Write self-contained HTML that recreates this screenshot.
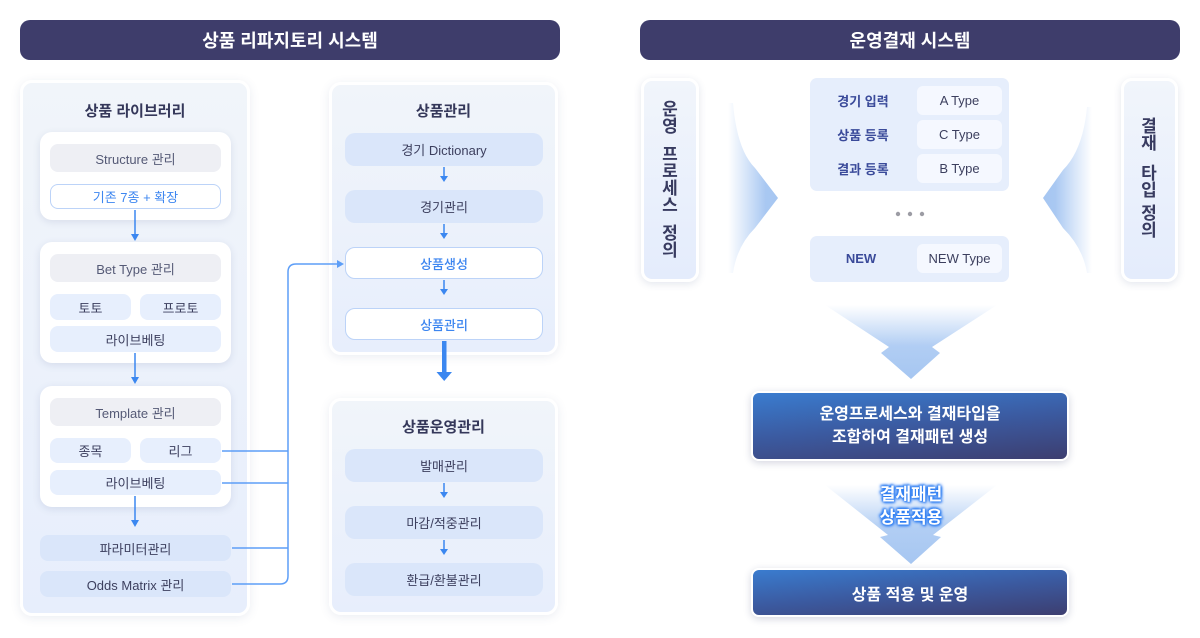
<!DOCTYPE html>
<html><head><meta charset="utf-8">
<style>
*{margin:0;padding:0;box-sizing:border-box}
body{width:1200px;height:638px;background:#fff;position:relative;overflow:hidden;font-family:"Liberation Sans","Noto Sans CJK KR",sans-serif;}
.a{position:absolute}
.b{position:absolute;display:flex;align-items:center;justify-content:center;text-align:center;white-space:nowrap}
.hdr{background:#3e3d6b;color:#fff;font-weight:700;font-size:18px;border-radius:10px;height:40px;top:20px;width:540px}
.panel{position:absolute;border:3px solid #fff;border-radius:12px;background:linear-gradient(180deg,#f1f5fa 0%,#e7eefc 100%);box-shadow:0 2px 10px rgba(60,80,130,0.10)}
.card{position:absolute;background:#fff;border-radius:12px;box-shadow:0 2px 8px rgba(60,80,130,0.13)}
.ttl{font-weight:700;font-size:15px;color:#35385a}
.g{background:#eeeff4;border-radius:8px;color:#555a76;font-size:13px}
.lb{background:#e7effd;border-radius:8px;color:#3c3f5e;font-size:13px}
.mb{background:#dae6fa;border-radius:10px;color:#3c3f5e;font-size:13px}
.wb{background:#fff;border:1.5px solid #bcd3f8;border-radius:10px;color:#3d86f0;font-size:13px}
.vbox{position:absolute;border:3px solid #fff;border-radius:11px;background:linear-gradient(180deg,#f1f5fb,#e4ecfc);box-shadow:0 2px 8px rgba(60,80,130,0.14)}
.vt{position:absolute;width:20px;font-weight:700;font-size:17px;line-height:17px;color:#383b60;text-align:center}
.tl{font-weight:700;font-size:13px;color:#3a4a9a}
.tb{background:#f5f8ff;border-radius:6px;color:#3c3f5e;font-size:13px}
.blue{background:linear-gradient(175deg,#3a7ccf 0%,#3b5aa0 50%,#3d3e70 100%);border:2px solid #fff;border-radius:8px;box-shadow:0 2px 8px rgba(40,50,100,0.2);color:#fff;font-weight:700;font-size:16px}
</style></head><body>

<!-- headers -->
<div class="b hdr" style="left:20px">상품 리파지토리 시스템</div>
<div class="b hdr" style="left:640px">운영결재 시스템</div>

<!-- left panel -->
<div class="panel" style="left:20px;top:80px;width:230px;height:536px"></div>
<div class="b ttl" style="left:20px;top:98px;width:230px;height:24px">상품 라이브러리</div>

<div class="card" style="left:40px;top:132px;width:191px;height:88px"></div>
<div class="b g" style="left:50px;top:144px;width:171px;height:28px">Structure 관리</div>
<div class="b wb" style="left:50px;top:184px;width:171px;height:25px;border-radius:8px">기존 7종 + 확장</div>

<div class="card" style="left:40px;top:242px;width:191px;height:121px"></div>
<div class="b g" style="left:50px;top:254px;width:171px;height:28px">Bet Type 관리</div>
<div class="b lb" style="left:50px;top:294px;width:81px;height:26px">토토</div>
<div class="b lb" style="left:140px;top:294px;width:81px;height:26px">프로토</div>
<div class="b lb" style="left:50px;top:326px;width:171px;height:26px">라이브베팅</div>

<div class="card" style="left:40px;top:386px;width:191px;height:121px"></div>
<div class="b g" style="left:50px;top:398px;width:171px;height:28px">Template 관리</div>
<div class="b lb" style="left:50px;top:438px;width:81px;height:25px">종목</div>
<div class="b lb" style="left:140px;top:438px;width:81px;height:25px">리그</div>
<div class="b lb" style="left:50px;top:470px;width:171px;height:25px">라이브베팅</div>

<div class="b mb" style="left:40px;top:535px;width:191px;height:26px;border-radius:8px">파라미터관리</div>
<div class="b mb" style="left:40px;top:571px;width:191px;height:26px;border-radius:8px">Odds Matrix 관리</div>

<!-- middle panels -->
<div class="panel" style="left:329px;top:82px;width:229px;height:273px"></div>
<div class="b ttl" style="left:329px;top:98px;width:229px;height:24px">상품관리</div>
<div class="b mb" style="left:345px;top:133px;width:198px;height:33px">경기 Dictionary</div>
<div class="b mb" style="left:345px;top:190px;width:198px;height:33px">경기관리</div>
<div class="b wb" style="left:345px;top:247px;width:198px;height:32px;font-weight:500">상품생성</div>
<div class="b wb" style="left:345px;top:308px;width:198px;height:32px;font-weight:500">상품관리</div>

<div class="panel" style="left:329px;top:398px;width:229px;height:217px"></div>
<div class="b ttl" style="left:329px;top:414px;width:229px;height:24px">상품운영관리</div>
<div class="b mb" style="left:345px;top:449px;width:198px;height:33px">발매관리</div>
<div class="b mb" style="left:345px;top:506px;width:198px;height:33px">마감/적중관리</div>
<div class="b mb" style="left:345px;top:563px;width:198px;height:33px">환급/환불관리</div>

<!-- connectors & fans -->
<svg class="a" style="left:0;top:0" width="1200" height="638" viewBox="0 0 1200 638">
<defs>
<linearGradient id="fl" x1="728" y1="0" x2="778" y2="0" gradientUnits="userSpaceOnUse">
<stop offset="0" stop-color="#a9c8f2" stop-opacity="0"/><stop offset="0.35" stop-color="#a9c8f2" stop-opacity="0.45"/><stop offset="0.75" stop-color="#a9c8f2" stop-opacity="1"/><stop offset="1" stop-color="#a6c6f1"/></linearGradient>
<linearGradient id="fr" x1="1092" y1="0" x2="1043" y2="0" gradientUnits="userSpaceOnUse">
<stop offset="0" stop-color="#a9c8f2" stop-opacity="0"/><stop offset="0.35" stop-color="#a9c8f2" stop-opacity="0.45"/><stop offset="0.75" stop-color="#a9c8f2" stop-opacity="1"/><stop offset="1" stop-color="#a6c6f1"/></linearGradient>
<linearGradient id="fd1" x1="0" y1="305" x2="0" y2="379" gradientUnits="userSpaceOnUse">
<stop offset="0" stop-color="#b0cdf4" stop-opacity="0"/><stop offset="0.55" stop-color="#adcbf3" stop-opacity="0.95"/><stop offset="1" stop-color="#a6c6f1"/></linearGradient>
<linearGradient id="fd2" x1="0" y1="485" x2="0" y2="564" gradientUnits="userSpaceOnUse">
<stop offset="0" stop-color="#b0cdf4" stop-opacity="0"/><stop offset="0.55" stop-color="#adcbf3" stop-opacity="0.95"/><stop offset="1" stop-color="#a6c6f1"/></linearGradient>
</defs>
<g stroke="#3b87f0" stroke-width="1.5" fill="none">
<line x1="135" y1="210" x2="135" y2="235"/>
<line x1="135" y1="353" x2="135" y2="378"/>
<line x1="135" y1="496" x2="135" y2="521"/>
<line x1="444" y1="167" x2="444" y2="177"/>
<line x1="444" y1="224" x2="444" y2="234"/>
<line x1="444" y1="280" x2="444" y2="290"/>
<line x1="444" y1="483" x2="444" y2="493"/>
<line x1="444" y1="540" x2="444" y2="550"/>
</g>
<g fill="#3b87f0">
<polygon points="131,234 139,234 135,241"/>
<polygon points="131,377 139,377 135,384"/>
<polygon points="131,520 139,520 135,527"/>
<polygon points="440,176 448,176 444,182"/>
<polygon points="440,233 448,233 444,239"/>
<polygon points="440,289 448,289 444,295"/>
<polygon points="440,492 448,492 444,498"/>
<polygon points="440,549 448,549 444,555"/>
<rect x="442" y="341" width="4.5" height="32"/>
<polygon points="436.5,372 452,372 444.2,381"/>
</g>
<g stroke="#5d9ef7" stroke-width="1.5" fill="none">
<line x1="222" y1="451" x2="288" y2="451"/>
<line x1="222" y1="483" x2="288" y2="483"/>
<line x1="232" y1="548" x2="288" y2="548"/>
<path d="M232,584 L280,584 Q288,584 288,576 L288,272 Q288,264 296,264 L338,264"/>
</g>
<polygon fill="#5d9ef7" points="337,260 344,264 337,268"/>

<path fill="url(#fl)" d="M733,103 Q737,150 755,168 L778,198 L755,228 Q737,246 733,273 L728,273 L728,103 Z"/>
<path fill="url(#fr)" d="M1087,107 Q1083,150 1063,170 L1043,198 L1063,228 Q1083,248 1087,273 L1092,273 L1092,107 Z"/>
<path fill="url(#fd1)" d="M825,305 L997,305 L932,347 L940,353 L911,379 L881,353 L889,347 Z"/>
<path fill="url(#fd2)" d="M825,485 L997,485 L933,535 L941,537 L911,564 L880,537 L888,535 Z"/>
<circle cx="898" cy="214" r="2.2" fill="#9c9ca4"/>
<circle cx="910" cy="214" r="2.2" fill="#9c9ca4"/>
<circle cx="922" cy="214" r="2.2" fill="#9c9ca4"/>
</svg>

<!-- right side vertical boxes -->
<div class="vbox" style="left:641px;top:78px;width:58px;height:204px"></div>
<div class="vt" style="left:660px;top:101px">운<br>영</div>
<div class="vt" style="left:660px;top:146px">프<br>로<br>세<br>스</div>
<div class="vt" style="left:660px;top:225px">정<br>의</div>

<div class="vbox" style="left:1121px;top:78px;width:57px;height:204px"></div>
<div class="vt" style="left:1139px;top:118px">결<br>재</div>
<div class="vt" style="left:1139px;top:165px">타<br>입</div>
<div class="vt" style="left:1139px;top:205px">정<br>의</div>

<!-- table -->
<div class="a" style="left:810px;top:78px;width:199px;height:113px;background:#e6eefc;border-radius:7px"></div>
<div class="b tl" style="left:822px;top:88px;width:82px;height:25px">경기 입력</div>
<div class="b tl" style="left:822px;top:122px;width:82px;height:25px">상품 등록</div>
<div class="b tl" style="left:822px;top:156px;width:82px;height:25px">결과 등록</div>
<div class="b tb" style="left:917px;top:86px;width:85px;height:29px">A Type</div>
<div class="b tb" style="left:917px;top:120px;width:85px;height:29px">C Type</div>
<div class="b tb" style="left:917px;top:154px;width:85px;height:29px">B Type</div>

<div class="a" style="left:810px;top:236px;width:199px;height:46px;background:#e6eefc;border-radius:7px"></div>
<div class="b tl" style="left:820px;top:246px;width:82px;height:25px">NEW</div>
<div class="b tb" style="left:917px;top:244px;width:85px;height:29px">NEW Type</div>

<!-- blue boxes -->
<div class="b blue" style="left:751px;top:391px;width:318px;height:70px;line-height:23px">운영프로세스와 결재타입을<br>조합하여 결재패턴 생성</div>
<div class="b" style="left:840px;top:483px;width:142px;height:46px;color:#fff;font-weight:700;font-size:17px;line-height:23px;text-shadow:0 0 3px #2b7cf2,0 0 3px #2b7cf2,0 0 5px #3a86f3,1px 1px 2px #2b7cf2,-1px -1px 2px #2b7cf2">결재패턴<br>상품적용</div>
<div class="b blue" style="left:751px;top:568px;width:318px;height:49px">상품 적용 및 운영</div>

</body></html>
